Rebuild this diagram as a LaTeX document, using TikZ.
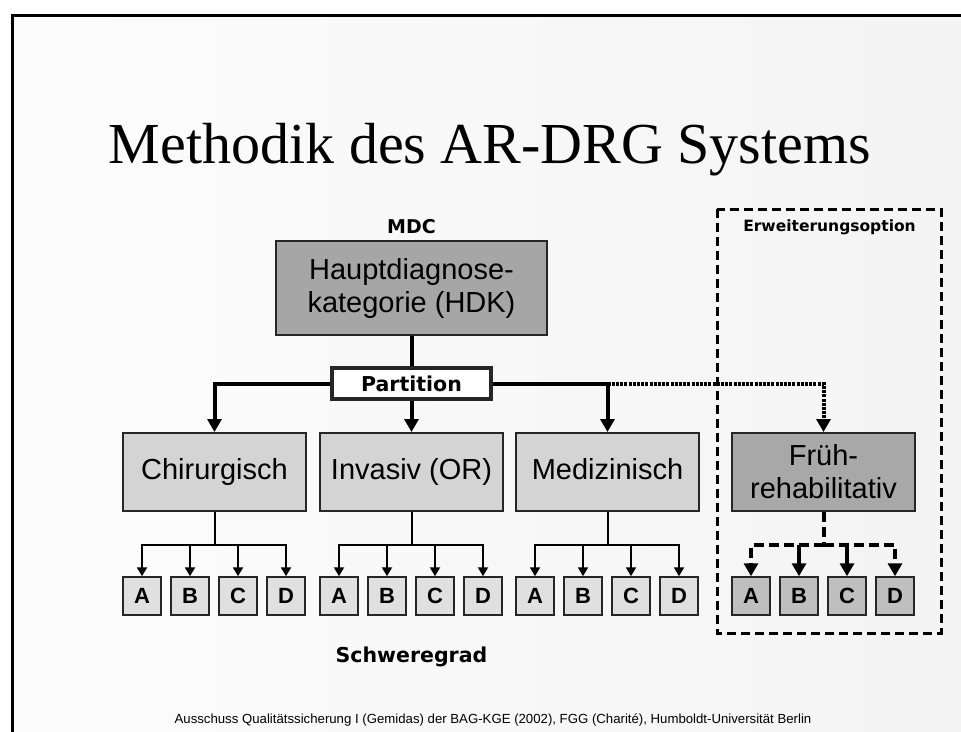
\documentclass[tikz,border=0pt]{standalone}
\usepackage{fontspec}
\setmainfont{Liberation Serif}
\setsansfont{Liberation Sans}
\newfontfamily\fettfont{DejaVu Sans}
\usetikzlibrary{arrows.meta}

\begin{document}
\begin{tikzpicture}[x=1pt,y=-1pt,
    box/.style={draw=black!85,line width=2pt,align=center,inner sep=0pt,
        font=\sffamily\fontsize{29}{33}\selectfont},
    hdkbox/.style={box,fill=black!35,minimum width=271pt,minimum height=94pt},
    zweig/.style={box,fill=black!17,minimum width=183pt,minimum height=78pt,
        text height=21pt,text depth=6pt},
    frbox/.style={box,fill=black!34,minimum width=183pt,minimum height=78pt},
    grad/.style={draw=black!85,line width=1.5pt,fill=black!12,minimum size=38pt,
        inner sep=0pt,text height=15.5pt,text depth=0pt,
        font=\sffamily\bfseries\fontsize{22}{22}\selectfont},
    fgrad/.style={grad,fill=black!25},
    fett/.style={font=\fettfont\bfseries\fontsize{#1}{#1}\selectfont},
    pfeil/.style={line width=4pt,-{Triangle[width=14pt,length=13pt]}},
    kpfeil/.style={line width=2pt,-{Triangle[width=10pt,length=9pt]}}]
    \useasboundingbox (0,0) rectangle (961,731);
    \fill[white] (0,0) rectangle (961,731);
    \shade[left color=white!99!black,right color=white!95.5!black] (12,15) rectangle (961,731);
    \draw[line width=3pt] (12,740) -- (12,15) -- (970,15);

    \node[anchor=base,font=\fontsize{58}{60}\selectfont] (titel) at (490,163) {Methodik des AR-DRG Systems};

    \node[anchor=base,fett=19] (mdc) at (411.5,233) {MDC};
    \node[hdkbox] (hdk) at (411.5,288) {Hauptdiagnose-\\kategorie (HDK)};
    \node[draw=black!85,line width=3.5pt,fill=white,minimum width=159pt,minimum height=31pt,
        inner sep=0pt,fett=20.5] (part) at (411.5,383.5) {Partition};

    \node[zweig] (chir) at (214.5,472) {Chirurgisch};
    \node[zweig] (inv) at (411.5,472) {Invasiv (OR)};
    \node[zweig] (med) at (607.5,472) {Medizinisch};
    \node[frbox] (fruh) at (823.5,472) {Früh-\\rehabilitativ};

    \draw[line width=4pt] (hdk.south) -- (part.north);
    \draw[pfeil] (part.west) -| (chir.north);
    \draw[pfeil] (part.south) -- (inv.north);
    \draw[pfeil] (part.east) -| (med.north);
    \coordinate (pm) at (med.north |- part.east);
    \draw[pfeil,dash pattern=on 3pt off 1.2pt] (pm) -| (fruh.north);

    \foreach \p/\x in {chir/123,inv/320,med/516}{
        \node[grad] (\p A) at (\x+19,596) {A};
        \node[grad] (\p B) at (\x+67,596) {B};
        \node[grad] (\p C) at (\x+115,596) {C};
        \node[grad] (\p D) at (\x+163,596) {D};
        \draw[line width=2pt] (\p.south) -- ++(0,33) coordinate (\p j);
        \foreach \k in {A,B,C,D}
            \draw[kpfeil] (\p j) -| (\p\k.north);
    }

    \node[fgrad] (fruhA) at (751,596) {A};
    \node[fgrad] (fruhB) at (799,596) {B};
    \node[fgrad] (fruhC) at (847,596) {C};
    \node[fgrad] (fruhD) at (895,596) {D};
    \draw[line width=4pt,dash pattern=on 10pt off 5pt] (fruh.south) -- ++(0,33) coordinate (fruhj);
    \draw[pfeil,dash pattern=on 10pt off 5pt] (fruhj) -| (fruhA.north);
    \draw[pfeil,dash pattern=on 10pt off 5pt] (fruhj) -| (fruhD.north);
    \draw[pfeil] (fruhB.north |- fruhj) -- (fruhB.north);
    \draw[pfeil] (fruhC.north |- fruhj) -- (fruhC.north);

    \draw[line width=3pt,dash pattern=on 9pt off 5pt] (717,209) rectangle (941,633);
    \node[anchor=base,fett=15.5] (erw) at (829.5,231) {Erweiterungsoption};

    \node[anchor=base,fett=20.5] (schwere) at (411.5,662) {Schweregrad};
    \node[anchor=base,font=\sffamily\fontsize{13.2}{15}\selectfont] (quelle) at (493,723)
        {Ausschuss Qualitätssicherung I (Gemidas) der BAG-KGE (2002), FGG (Charité), Humboldt-Universität Berlin};
\end{tikzpicture}
\end{document}
